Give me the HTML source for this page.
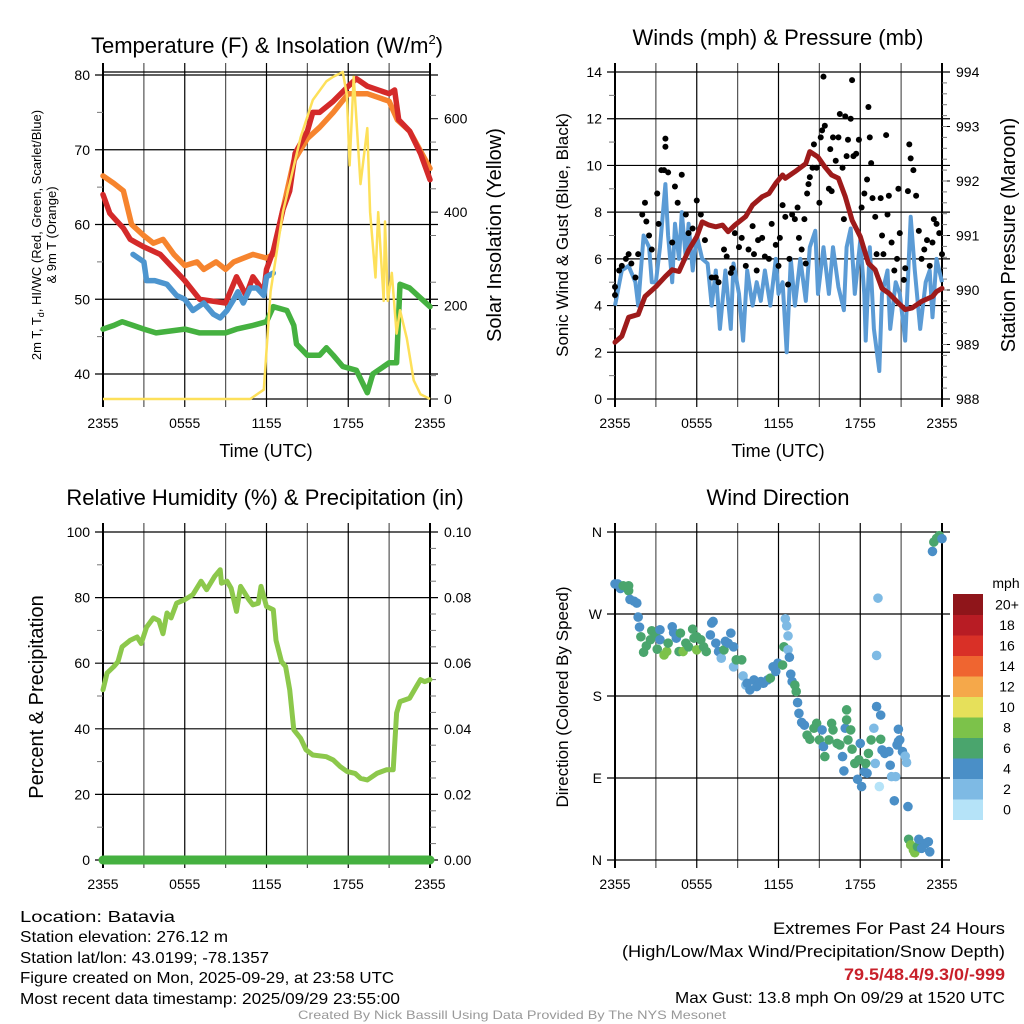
<!DOCTYPE html>
<html><head><meta charset="utf-8"><style>
html,body{margin:0;padding:0;background:#fff}
svg{display:block;font-family:"Liberation Sans",Arial,sans-serif}
</style></head><body>
<svg id="svg" width="1024" height="1024" viewBox="0 0 1024 1024"></svg>
<script>
// ---------- DATA ----------
const tempHours=[0,0.5,1,1.5,2,2.5,3,4.2,6,7.1,9,9.8,10.5,11,11.8,12,12.5,13.2,13.7,14.1,15,15.4,15.9,16.9,18,18.6,19.4,21,21.4,21.7,22.5,23.3,24];
const tempVals=[64,61.5,60.5,59.5,58,57.5,57,56,52.5,50,49.5,53,50.5,53,51,54,56.5,62,64.5,69.5,72.5,75,75,76.5,78.5,79.5,78.5,77.5,78,74,72.5,69.5,66];
const t9Hours=[0,0.8,1.5,2.1,3,3.7,4.4,5.2,6,6.9,7.4,8.3,9,9.6,11,12,12.5,13.2,14,15,15.9,16.9,18,19.4,21,21.6,22.5,24];
const t9Vals=[66.5,65.5,64.5,60,58.5,57.5,58,56,54.5,55,54,55,54,55,56,55.5,56,62,68.5,71.5,73,75,77.5,77.5,76.5,74,72.5,67.5];
const hiHours=[2.2,3,3.2,3.8,4.7,5.4,6,6.6,7.4,8.1,8.6,9.1,9.6,9.9,10.3,10.8,11.3,11.8,12,12.5];
const hiVals=[56,55,52.5,52.5,52,50.5,50,48.5,49.5,48,47.5,48.5,50,51,49.5,51.5,51.5,50.5,53,53.5];
const tdHours=[0,0.8,1.4,2.2,3,3.9,6,7.1,8.3,9,9.8,11,12,12.5,13.5,14,14.2,15,15.9,16.4,16.9,17.6,18.6,19.4,19.8,21,21.55,21.8,22.5,24];
const tdVals=[46,46.5,47,46.5,46,45.5,46,45.5,45.5,45.5,46,46.5,47,49,48.5,46.5,44,42.5,42.5,43.5,42.5,41,40.5,37.5,40,41.5,41.5,52,51.5,49];
const solHours=[0,10.8,11.8,12.3,13.2,14.5,15.4,16.4,16.9,17.6,17.9,18.1,18.4,18.9,19.4,19.6,20,20.2,20.6,20.7,20.9,21.2,21.55,21.8,22.3,22.8,23.3,24];
const solVals=[0,0,20,230,400,560,640,680,690,700,650,500,690,460,580,400,260,400,210,380,210,270,140,190,130,40,10,0];
const p1LeftTicks=[40,50,60,70,80];
const p1RightTicks=[0,200,400,600];
const timeTickLabels=["2355","0555","1155","1755","2355"];
const windHours=[0,0.5,1,1.5,1.7,2.1,2.5,2.7,3,3.3,3.7,3.9,4.2,4.4,4.7,4.9,5.2,5.4,5.7,6,6.4,6.8,7.1,7.4,7.7,8.1,8.5,8.7,9.1,9.4,9.7,10.1,10.4,10.7,11,11.4,11.8,12,12.3,12.6,12.9,13.2,13.6,14,14.3,14.7,14.9,15.3,15.7,16,16.4,16.8,17,17.3,17.6,18,18.3,18.4,18.7,19,19.4,19.6,20,20.2,20.6,20.9,21.3,21.7,22,22.4,22.8,23.1,23.3,23.6,24];
const windVals=[4,5.5,5.7,5,4,7,6.5,5,5,6.5,9.2,7,5,7.5,6,8,6,7.5,5.5,7,6,5.8,4,5.5,3,5.5,3,5.8,4.5,2.5,5.5,4,5,4.2,5.5,4,6,4.5,5,2,6,4,6,4.2,6.5,7.2,4.5,6.5,4.5,6.5,4.8,3.8,6.5,7.3,4.5,6.8,4.5,2.5,6.5,3,1.2,4.5,5.5,3,5,4.5,2.5,7.8,5.5,3,5,5.5,3.5,6,5];
const gustHours=[0,0,0.3,0.5,0.8,1,1.2,1.5,1.7,2,2.2,2.3,2.5,2.7,3.1,3.2,3.4,3.6,3.7,3.7,3.9,4.2,4.4,4.6,4.9,5.2,5.4,5.7,6,6.3,6.6,7.1,7.4,7.6,8,8.2,8.5,8.6,8.8,9.1,9.3,9.6,9.8,10.1,10.2,10.4,10.5,10.8,11,11.3,11.5,11.8,12,12.1,12.3,12.5,12.7,12.8,13,13.2,13.4,13.5,13.7,13.9,14,14.1,14.2,14.3,14.5,14.6,14.8,15,15.1,15.2,15.3,15.4,15.7,15.8,15.9,16,16.2,16.4,16.5,16.7,16.8,16.9,17,17.1,17.3,17.4,17.5,17.7,17.9,18.1,18.3,18.5,18.6,18.7,18.8,18.9,19.1,19.2,19.5,19.6,19.7,19.9,20,20.1,20.3,20.5,20.7,20.8,20.9,21.2,21.3,21.5,21.6,21.7,21.9,22.1,22.3,22.5,22.7,22.9,23.1,23.3,23.4,23.6,23.8,24];
const gustVals=[4.45,4.8,5.5,5.7,6,6.2,5.8,5.2,6.2,7.9,8.4,7.6,7,6.4,8.8,7.5,9.8,9.8,11.15,10.8,9.7,6.7,9.1,8.4,9.6,7.9,7.1,7.3,8.5,7.9,6.8,5.2,5.2,5,6.4,6.1,5.4,5.6,7.1,6.5,6.9,5.7,6.4,7.4,6.2,5.5,6.8,6.9,6.1,6,7.5,6.6,5.7,6.9,8.3,7.8,4.9,6,7.9,7.7,8.2,6.9,6.4,7.7,5.8,8.8,9.2,9.5,9.9,10.9,9.9,8.4,11.2,11.5,13.8,11.7,9,10.7,8.9,11.2,10.2,11.2,12.2,9.9,7.7,12.1,10.4,11.1,12,13.65,10.4,10.5,11.1,8.2,8.8,9.4,12.5,11.2,10.1,8.6,7.8,6.2,8.6,7,6.2,11.3,7.9,8.7,6.7,5.5,6,9,7.1,5.1,5.6,8.9,10.9,10.3,9.8,8.7,7.2,6,6.4,6.8,5.7,6.7,7.7,7.5,7.1,6.2];
const presHours=[0,0.5,1,1.7,2.2,3,3.7,4.2,4.7,5.4,6,6.4,6.9,7.4,7.9,8.3,8.8,9.6,10.1,10.8,11.3,11.8,12.3,12.5,13.2,14,14.3,14.9,15.4,15.9,16.4,16.9,17.4,18,18.6,19.1,19.6,20.1,20.8,21.3,21.8,22.5,23.3,23.6,24];
const presVals=[989.04,989.15,989.5,989.55,989.88,990.06,990.25,990.37,990.34,990.73,990.98,991.25,991.19,991.16,991.19,991.07,991.19,991.35,991.56,991.71,991.77,991.96,992.11,992.05,992.17,992.32,992.54,992.44,992.26,992.11,992.05,991.71,991.28,990.98,990.49,990.37,990.03,989.94,989.76,989.64,989.67,989.79,989.88,989.97,990.03];
const p2LeftTicks=[0,2,4,6,8,10,12,14];
const p2RightTicks=[988,989,990,991,992,993,994];
const rhHours=[0,0.3,0.8,1.1,1.4,2,2.5,2.8,3.2,3.7,4.1,4.4,4.7,5,5.4,6,6.6,7.2,7.6,8.2,8.6,8.7,9.1,9.4,9.8,10.1,10.4,10.7,11,11.4,11.6,12,12.5,12.7,13.1,13.4,13.7,14,14.5,14.9,15.4,16.4,16.9,17.4,17.9,18.5,18.9,19.4,20.1,20.8,21.3,21.55,21.8,22.5,23,23.3,23.6,24];
const rhVals=[51.9,57,59,60.5,65,67,68,66,71,73.8,73,69,75.3,73.8,78.3,79.4,80.9,85,82.4,86.5,88.5,84.4,85,82.9,75.8,83.4,81.4,79.4,77.8,78.3,83.4,77.3,76.3,67,60.5,59,51.9,39.7,37.1,33.6,32,31.5,30.5,28.5,27,26.4,24.9,24.4,26.4,27.5,27.5,44.8,48.3,49.3,52.9,55,54.4,55];
const precipHours=[0,24];
const precipVals=[0,0];
const p3LeftTicks=[0,20,40,60,80,100];
const p3RightTicks=["0.00","0.02","0.04","0.06","0.08","0.10"];
const dirHours=[0,0.2,0.4,0.6,1,1,1.1,1.4,1.6,1.7,1.8,1.9,2.1,2.3,2.6,2.7,3,3.1,3.3,3.3,3.6,3.8,3.9,4.2,4.3,4.5,4.8,4.7,5,5.2,5.4,5.7,5.8,6,6,6.3,6.5,6.7,7,7.1,7.2,7.4,7.6,7.8,8,8.1,8.3,8.5,8.7,8.7,8.9,9.3,9.4,9.6,9.7,9.9,10.2,10.4,10.7,10.9,11.2,11.4,11.6,11.8,11.96,12.3,12.4,12.5,12.6,12.7,12.7,12.8,12.9,13,13.2,13.3,13.4,13.5,13.7,13.9,14.1,14.3,14.6,14.8,15,15.2,15.3,15.4,15.7,15.9,16,16.3,16.5,16.7,16.8,16.9,17,17,17.1,17.3,17.4,17.6,17.8,17.9,18,18.1,18.3,18.4,18.5,18.6,18.8,19,19.1,19.2,19.3,19.2,19.4,19.5,19.5,19.6,19.8,20.1,20.2,20.3,20.6,20.5,20.7,20.8,20.8,20.9,21.1,21.3,21.4,21.5,21.55,21.7,21.9,22,22.2,22.3,22.5,22.8,23,23.1,23.3,23.4,23.6,23.8,24];
const dirDeg=[303,303,298,301,301,295.5,286,284,282,266.6,255.6,245,228,235,241.7,251.6,246,231.4,241.7,252.7,225,228.8,238,256,249.7,243.5,249,228.8,228.8,238,234,253.4,243.5,245,230.7,241.7,234,228.8,247,260,261.8,238,228.8,221.5,230.7,240,238,249,234,212,219.7,219.7,202,192,194,186.7,197.7,190.4,195.9,194,197.7,199.6,212,207,216,214,234,264.7,257,246,230.7,222.5,204,195.9,192,185,172.8,161,151,148,137,132.5,144.6,150,131.8,142.8,124.5,113.5,131.8,150,142.8,128,126.3,113.5,97.8,144.6,164.8,153.8,131.8,142.8,121.6,106,88.6,110,128,80.6,97,106,95.2,117,131.8,144.6,106,168.4,287.4,224.5,80.6,132.5,159,120.8,117,119,104,91.5,91.5,65,126.3,130,143.5,131.8,119,114,107,58.6,22.7,16.5,11,8,14.6,22.7,12.8,18.3,20,9,338.7,349,353,356,352.6];
const dirSpeed=[5,5,5,7,7,7,5,5,5,5,5,7,7,7,7,7,7,7,5,5,9,9,7,5,5,5,7,7,9,7,7,7,7,7,9,7,7,7,5,5,5,5,5,3,7,5,5,5,5,3,7,7,3,3,5,5,5,5,5,5,5,7,5,5,5,7,7,3,3,3,3,5,5,5,7,7,5,5,5,5,7,7,7,7,7,5,5,7,7,7,7,7,7,5,5,5,7,7,7,7,7,7,5,7,5,5,5,7,5,7,7,3,3,5,3,3,1,7,5,5,5,5,5,3,3,5,5,5,5,5,5,3,3,5,7,9,9,9,7,5,5,5,5,5,5,7,7,7,5];
const dirTickLabels=["N","E","S","W","N"];
const speedBinLabels=["0","2","4","6","8","10","12","14","16","18","20+"];
const speedBinColors=["#b5e3f8","#7ebae4","#4a8fc7","#4aa56d","#7cc24a","#e6e05a","#f5a84a","#ef6530","#d93027","#b81c24","#8f151a"];

// ---------- DRAWING ----------
const NS="http://www.w3.org/2000/svg";
const svg=document.getElementById('svg');
function mk(tag,attrs,parent,txt){const e=document.createElementNS(NS,tag);for(const k in attrs)e.setAttribute(k,attrs[k]);if(txt!==undefined)e.textContent=txt;(parent||svg).appendChild(e);return e;}
function lin(d0,d1,r0,r1){return v=>r0+(v-d0)*(r1-r0)/(d1-d0);}
function pathD(xs,ys,sx,sy){let d="";for(let i=0;i<xs.length;i++){d+=(i?"L":"M")+sx(xs[i]).toFixed(1)+","+sy(ys[i]).toFixed(1);}return d;}

function frame(g,L,R,T,B){
  const sx=lin(0,24,L,R);
  for(let h=0;h<=24;h+=3){const x=sx(h);const ln=mk('line',{x1:x,y1:T-9,x2:x,y2:B+8,stroke:h%6===0?'#000':'#555','stroke-width':h===0||h===24?2:1.2},g);
    }
  for(let i=0;i<5;i++){const t=mk('text',{x:sx(i*6),y:B+29,'font-size':14,'text-anchor':'middle'},g,timeTickLabels[i]);
    }
  return sx;
}
function hgrid(g,L,R,y,label){const ln=mk('line',{x1:L-8,y1:y,x2:R+8,y2:y,stroke:'#000','stroke-width':1.2},g);
  
  if(label!==undefined){const t=mk('text',{x:L-13,y:y+5,'font-size':14,'text-anchor':'end'},g,label);
    }}
function minor(g,x,y,len){mk('line',{x1:x,y1:y,x2:x+len,y2:y,stroke:'#777','stroke-width':1},g);}

// Panel 1
(function(){
  const g=mk('g',{});
  const L=103,R=430,T=72,B=399;
  const sx=frame(g,L,R,T,B);
  const sy=lin(80,40,75,374), sy2=lin(0,700,399,72);
  p1LeftTicks.forEach(v=>hgrid(g,L,R,sy(v),String(v)));
  p1RightTicks.forEach(v=>{const y=sy2(v);mk('line',{x1:R,y1:y,x2:R+8,y2:y,stroke:'#000'},g);const t=mk('text',{x:R+14,y:y+5,'font-size':14},g,String(v));});
  for(let v=50;v<700;v+=100)minor(g,R,sy2(v),6);
  for(let v=45;v<80;v+=10)minor(g,L-6,sy(v),6);
  mk('line',{x1:L,y1:T,x2:R,y2:T,stroke:'#000','stroke-width':1.2},g);
  mk('line',{x1:L,y1:B,x2:R,y2:B,stroke:'#000','stroke-width':1.2},g);
  const s=[[t9Hours,t9Vals,'#f6842e','series-9m-temp'],[tempHours,tempVals,'#d42a2a','series-2m-temp'],[hiHours,hiVals,'#4d95cf','series-hi-wc'],[tdHours,tdVals,'#45b140','series-dewpoint']];
  s.forEach(a=>{const p=mk('path',{d:pathD(a[0],a[1],sx,sy),fill:'none',stroke:a[2],'stroke-width':5.5,'stroke-linejoin':'round','stroke-linecap':'round'},g);});
  const sp=mk('path',{d:pathD(solHours,solVals,sx,sy2),fill:'none',stroke:'#fde05a','stroke-width':2.5,'stroke-linejoin':'round'},g);
  
})();

// Panel 2
(function(){
  const g=mk('g',{});
  const L=615,R=942,T=72,B=399;
  const sx=frame(g,L,R,T,B);
  const sy=lin(0,14,399,72), sy2=lin(988,994,399,72);
  p2LeftTicks.forEach(v=>hgrid(g,L,R,sy(v),String(v)));
  p2RightTicks.forEach(v=>{const y=sy2(v);mk('line',{x1:R,y1:y,x2:R+8,y2:y,stroke:'#000'},g);const t=mk('text',{x:R+14,y:y+5,'font-size':14},g,String(v));});
  for(let v=988.2;v<994;v+=0.2)minor(g,R,sy2(v),5);
  for(let v=1;v<14;v+=2)minor(g,L-6,sy(v),6);
  const w=mk('path',{d:pathD(windHours,windVals,sx,sy),fill:'none',stroke:'#5b9bd5','stroke-width':4,'stroke-linejoin':'round'},g);
  
  for(let i=0;i<gustHours.length;i++){const c=mk('circle',{cx:sx(gustHours[i]),cy:sy(gustVals[i]),r:3,fill:'#000'},g);
    }
  const p=mk('path',{d:pathD(presHours,presVals,sx,sy2),fill:'none',stroke:'#9e1b1b','stroke-width':5,'stroke-linejoin':'round','stroke-linecap':'round'},g);
  
})();

// Panel 3
(function(){
  const g=mk('g',{});
  const L=103,R=430,T=532,B=860;
  const sx=frame(g,L,R,T,B);
  const sy=lin(0,100,860,532);
  p3LeftTicks.forEach((v,i)=>{hgrid(g,L,R,sy(v),String(v));const t=mk('text',{x:R+14,y:sy(v)+5,'font-size':14},g,p3RightTicks[i]);});
  for(let v=5;v<100;v+=5){if(v%20)minor(g,R,sy(v),6);}
  for(let v=10;v<100;v+=20)minor(g,L-6,sy(v),6);
  const r=mk('path',{d:pathD(rhHours,rhVals,sx,sy),fill:'none',stroke:'#8cc84b','stroke-width':5,'stroke-linejoin':'round','stroke-linecap':'round'},g);
  
  const sp=lin(0,0.1,860,532);
  const p=mk('path',{d:pathD(precipHours,precipVals,sx,sp),fill:'none',stroke:'#45b140','stroke-width':9,'stroke-linecap':'round'},g);
  
})();

// Panel 4
(function(){
  const g=mk('g',{});
  const L=615,R=942,T=532,B=860;
  const sx=frame(g,L,R,T,B);
  const sy=lin(0,360,860,532);
  dirTickLabels.forEach((lab,i)=>hgrid(g,L,R,sy(i*90),lab));
  function col(s){const i=Math.min(10,Math.floor(s/2));return speedBinColors[i];}
  for(let i=0;i<dirHours.length;i++){const c=mk('circle',{cx:sx(dirHours[i]),cy:sy(dirDeg[i]),r:4.8,fill:col(dirSpeed[i])},g);
    }
  const cb=mk('g',{});
  const top=594,h=20.5;
  mk('text',{x:1006,y:588,'font-size':14,'text-anchor':'middle'},cb,'mph');
  for(let i=0;i<11;i++){const y=top+(10-i)*h;
    const rc=mk('rect',{x:953,y:y,width:30,height:h+0.5,fill:speedBinColors[i]},cb);
    const t=mk('text',{x:1007,y:y+h/2+5,'font-size':14,'text-anchor':'middle'},cb,speedBinLabels[i]);}
})();
</script>
<svg width="1024" height="1024" style="position:absolute;left:0;top:0">
<g font-family="Liberation Sans, Arial, sans-serif" fill="#000">
<text x="267" y="53" font-size="22" text-anchor="middle">Temperature (F) &amp; Insolation (W/m<tspan dy="-9" font-size="13">2</tspan><tspan dy="9">)</tspan></text>
<text x="778" y="45" font-size="22" text-anchor="middle">Winds (mph) &amp; Pressure (mb)</text>
<text x="265" y="505" font-size="22" text-anchor="middle">Relative Humidity (%) &amp; Precipitation (in)</text>
<text x="778" y="505" font-size="22" text-anchor="middle">Wind Direction</text>
<text x="266" y="457" font-size="18" text-anchor="middle">Time (UTC)</text>
<text x="778" y="457" font-size="18" text-anchor="middle">Time (UTC)</text>
<text transform="translate(41,235) rotate(-90)" font-size="13" text-anchor="middle">2m T, T<tspan dy="3" font-size="9">d</tspan><tspan dy="-3">, HI/WC (Red, Green, Scarlet/Blue)</tspan></text>
<text transform="translate(56,235) rotate(-90)" font-size="13" text-anchor="middle">&amp; 9m T (Orange)</text>
<text transform="translate(501,235) rotate(-90)" font-size="20" text-anchor="middle">Solar Insolation (Yellow)</text>
<text transform="translate(568,235) rotate(-90)" font-size="17" text-anchor="middle">Sonic Wind &amp; Gust (Blue, Black)</text>
<text transform="translate(1015,235) rotate(-90)" font-size="20" text-anchor="middle">Station Pressure (Maroon)</text>
<text transform="translate(43,697) rotate(-90)" font-size="20" text-anchor="middle">Percent &amp; Precipitation</text>
<text transform="translate(568,697) rotate(-90)" font-size="17" text-anchor="middle">Direction (Colored By Speed)</text>
<g font-size="16">
<text x="20" y="922" textLength="155" lengthAdjust="spacingAndGlyphs">Location: Batavia</text>
<text x="20" y="942" textLength="208" lengthAdjust="spacingAndGlyphs">Station elevation: 276.12 m</text>
<text x="20" y="963" textLength="249" lengthAdjust="spacingAndGlyphs">Station lat/lon: 43.0199; -78.1357</text>
<text x="20" y="983" textLength="374" lengthAdjust="spacingAndGlyphs">Figure created on Mon, 2025-09-29, at 23:58 UTC</text>
<text x="20" y="1004" textLength="380" lengthAdjust="spacingAndGlyphs">Most recent data timestamp: 2025/09/29 23:55:00</text>
</g>
<g font-size="17" text-anchor="end">
<text x="1005" y="934" textLength="232" lengthAdjust="spacingAndGlyphs">Extremes For Past 24 Hours</text>
<text x="1005" y="957" textLength="383" lengthAdjust="spacingAndGlyphs">(High/Low/Max Wind/Precipitation/Snow Depth)</text>
<text x="1005" y="980" fill="#c8202a" font-weight="bold" textLength="161" lengthAdjust="spacingAndGlyphs">79.5/48.4/9.3/0/-999</text>
<text x="1005" y="1003" font-size="16" textLength="330" lengthAdjust="spacingAndGlyphs">Max Gust: 13.8 mph On 09/29 at 1520 UTC</text>
</g>
<text x="512" y="1019" font-size="12" fill="#999" text-anchor="middle" textLength="428" lengthAdjust="spacingAndGlyphs">Created By Nick Bassill Using Data Provided By The NYS Mesonet</text>
</g>
</svg>
</body></html>
